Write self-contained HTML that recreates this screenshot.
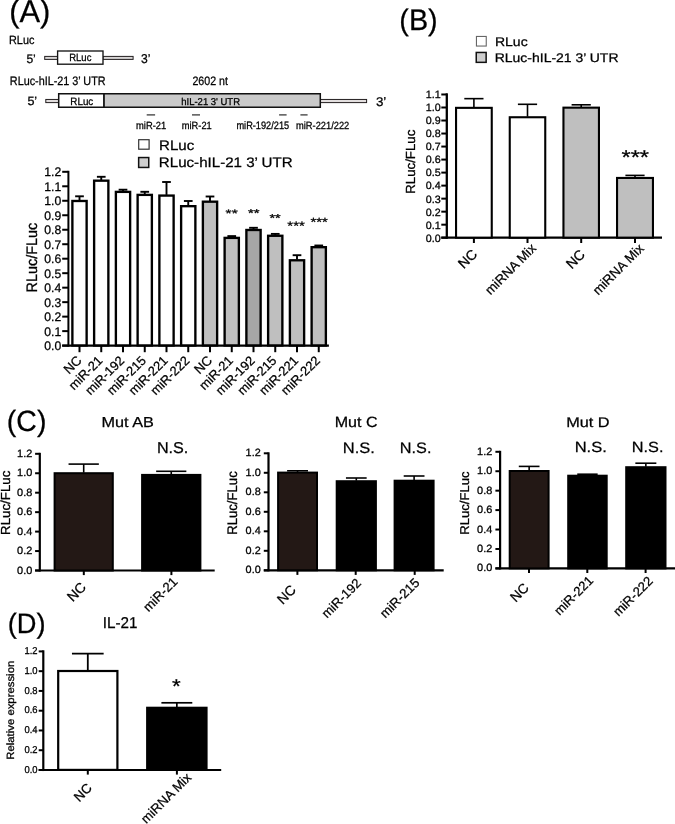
<!DOCTYPE html>
<html><head><meta charset="utf-8"><style>
html,body{margin:0;padding:0;background:#fff;}
svg{display:block;font-family:"Liberation Sans", sans-serif;text-rendering:geometricPrecision;}
text{stroke:#000;}
svg{will-change:transform;}
</style></head><body>
<svg width="675" height="824" viewBox="0 0 675 824">
<rect width="675" height="824" fill="#fff"/>
<rect x="44.70" y="56.40" width="12.90" height="3.00" fill="#d8d5d5" stroke="#231f20" stroke-width="1.0"/>
<rect x="103.00" y="56.40" width="30.10" height="3.00" fill="#d8d5d5" stroke="#231f20" stroke-width="1.0"/>
<rect x="57.60" y="51.00" width="45.40" height="13.20" fill="#fff" stroke="#151515" stroke-width="1.35"/>
<rect x="45.80" y="99.45" width="12.90" height="3.15" fill="#e0dcdc" stroke="#231f20" stroke-width="1.0"/>
<rect x="320.30" y="99.45" width="46.30" height="3.15" fill="#e3dfdf" stroke="#231f20" stroke-width="1.0"/>
<rect x="103.83" y="93.76" width="216.47" height="13.48" fill="#cacaca" stroke="#111" stroke-width="1.5"/>
<rect x="58.70" y="93.76" width="45.13" height="13.48" fill="#fff" stroke="#111" stroke-width="1.5"/>
<line x1="146.70" y1="114.90" x2="155.10" y2="114.90" stroke="#333" stroke-width="1.25"/>
<line x1="192.00" y1="114.90" x2="200.00" y2="114.90" stroke="#333" stroke-width="1.25"/>
<line x1="279.10" y1="114.90" x2="286.60" y2="114.90" stroke="#333" stroke-width="1.25"/>
<line x1="300.40" y1="114.90" x2="307.60" y2="114.90" stroke="#333" stroke-width="1.25"/>
<rect x="138.70" y="139.70" width="10.40" height="9.50" fill="#fff" stroke="#333" stroke-width="1.2"/>
<rect x="138.65" y="157.55" width="10.10" height="9.90" fill="#cecece" stroke="#111" stroke-width="1.5"/>
<line x1="68.40" y1="170.80" x2="68.40" y2="346.65" stroke="#000" stroke-width="2.0"/>
<line x1="62.20" y1="345.60" x2="68.40" y2="345.60" stroke="#000" stroke-width="2.0"/>
<line x1="62.20" y1="331.12" x2="68.40" y2="331.12" stroke="#000" stroke-width="2.0"/>
<line x1="62.20" y1="316.63" x2="68.40" y2="316.63" stroke="#000" stroke-width="2.0"/>
<line x1="62.20" y1="302.15" x2="68.40" y2="302.15" stroke="#000" stroke-width="2.0"/>
<line x1="62.20" y1="287.67" x2="68.40" y2="287.67" stroke="#000" stroke-width="2.0"/>
<line x1="62.20" y1="273.19" x2="68.40" y2="273.19" stroke="#000" stroke-width="2.0"/>
<line x1="62.20" y1="258.70" x2="68.40" y2="258.70" stroke="#000" stroke-width="2.0"/>
<line x1="62.20" y1="244.22" x2="68.40" y2="244.22" stroke="#000" stroke-width="2.0"/>
<line x1="62.20" y1="229.74" x2="68.40" y2="229.74" stroke="#000" stroke-width="2.0"/>
<line x1="62.20" y1="215.25" x2="68.40" y2="215.25" stroke="#000" stroke-width="2.0"/>
<line x1="62.20" y1="200.77" x2="68.40" y2="200.77" stroke="#000" stroke-width="2.0"/>
<line x1="62.20" y1="186.29" x2="68.40" y2="186.29" stroke="#000" stroke-width="2.0"/>
<line x1="62.20" y1="171.80" x2="68.40" y2="171.80" stroke="#000" stroke-width="2.0"/>
<line x1="62.20" y1="345.60" x2="328.90" y2="345.60" stroke="#000" stroke-width="2.1"/>
<line x1="79.50" y1="200.30" x2="79.50" y2="196.30" stroke="#000" stroke-width="1.9"/>
<line x1="75.15" y1="196.30" x2="83.85" y2="196.30" stroke="#000" stroke-width="1.9"/>
<rect x="72.38" y="200.98" width="14.25" height="144.45" fill="#fff" stroke="#000" stroke-width="2.35"/>
<line x1="79.50" y1="345.60" x2="79.50" y2="352.20" stroke="#000" stroke-width="2.0"/>
<line x1="101.25" y1="180.00" x2="101.25" y2="176.80" stroke="#000" stroke-width="1.9"/>
<line x1="96.90" y1="176.80" x2="105.60" y2="176.80" stroke="#000" stroke-width="1.9"/>
<rect x="94.12" y="180.68" width="14.25" height="164.75" fill="#fff" stroke="#000" stroke-width="2.35"/>
<line x1="101.25" y1="345.60" x2="101.25" y2="352.20" stroke="#000" stroke-width="2.0"/>
<line x1="123.00" y1="191.20" x2="123.00" y2="189.70" stroke="#000" stroke-width="1.9"/>
<line x1="118.65" y1="189.70" x2="127.35" y2="189.70" stroke="#000" stroke-width="1.9"/>
<rect x="115.88" y="191.88" width="14.25" height="153.55" fill="#fff" stroke="#000" stroke-width="2.35"/>
<line x1="123.00" y1="345.60" x2="123.00" y2="352.20" stroke="#000" stroke-width="2.0"/>
<line x1="144.75" y1="194.20" x2="144.75" y2="191.80" stroke="#000" stroke-width="1.9"/>
<line x1="140.40" y1="191.80" x2="149.10" y2="191.80" stroke="#000" stroke-width="1.9"/>
<rect x="137.62" y="194.88" width="14.25" height="150.55" fill="#fff" stroke="#000" stroke-width="2.35"/>
<line x1="144.75" y1="345.60" x2="144.75" y2="352.20" stroke="#000" stroke-width="2.0"/>
<line x1="166.50" y1="194.90" x2="166.50" y2="182.00" stroke="#000" stroke-width="1.9"/>
<line x1="162.15" y1="182.00" x2="170.85" y2="182.00" stroke="#000" stroke-width="1.9"/>
<rect x="159.38" y="195.58" width="14.25" height="149.85" fill="#fff" stroke="#000" stroke-width="2.35"/>
<line x1="166.50" y1="345.60" x2="166.50" y2="352.20" stroke="#000" stroke-width="2.0"/>
<line x1="188.25" y1="205.50" x2="188.25" y2="201.00" stroke="#000" stroke-width="1.9"/>
<line x1="183.90" y1="201.00" x2="192.60" y2="201.00" stroke="#000" stroke-width="1.9"/>
<rect x="181.12" y="206.18" width="14.25" height="139.25" fill="#fff" stroke="#000" stroke-width="2.35"/>
<line x1="188.25" y1="345.60" x2="188.25" y2="352.20" stroke="#000" stroke-width="2.0"/>
<line x1="210.00" y1="201.00" x2="210.00" y2="196.50" stroke="#000" stroke-width="1.9"/>
<line x1="205.65" y1="196.50" x2="214.35" y2="196.50" stroke="#000" stroke-width="1.9"/>
<rect x="202.88" y="201.68" width="14.25" height="143.75" fill="#bfbfbf" stroke="#000" stroke-width="2.35"/>
<line x1="210.00" y1="345.60" x2="210.00" y2="352.20" stroke="#000" stroke-width="2.0"/>
<line x1="231.75" y1="237.20" x2="231.75" y2="236.10" stroke="#000" stroke-width="1.9"/>
<line x1="227.40" y1="236.10" x2="236.10" y2="236.10" stroke="#000" stroke-width="1.9"/>
<rect x="224.62" y="237.88" width="14.25" height="107.55" fill="#bfbfbf" stroke="#000" stroke-width="2.35"/>
<line x1="231.75" y1="345.60" x2="231.75" y2="352.20" stroke="#000" stroke-width="2.0"/>
<line x1="253.50" y1="229.30" x2="253.50" y2="227.80" stroke="#000" stroke-width="1.9"/>
<line x1="249.15" y1="227.80" x2="257.85" y2="227.80" stroke="#000" stroke-width="1.9"/>
<rect x="246.38" y="229.98" width="14.25" height="115.45" fill="#a6a6a6" stroke="#000" stroke-width="2.35"/>
<line x1="253.50" y1="345.60" x2="253.50" y2="352.20" stroke="#000" stroke-width="2.0"/>
<line x1="275.25" y1="235.10" x2="275.25" y2="233.90" stroke="#000" stroke-width="1.9"/>
<line x1="270.90" y1="233.90" x2="279.60" y2="233.90" stroke="#000" stroke-width="1.9"/>
<rect x="268.12" y="235.78" width="14.25" height="109.65" fill="#bfbfbf" stroke="#000" stroke-width="2.35"/>
<line x1="275.25" y1="345.60" x2="275.25" y2="352.20" stroke="#000" stroke-width="2.0"/>
<line x1="297.00" y1="259.60" x2="297.00" y2="255.20" stroke="#000" stroke-width="1.9"/>
<line x1="292.65" y1="255.20" x2="301.35" y2="255.20" stroke="#000" stroke-width="1.9"/>
<rect x="289.88" y="260.28" width="14.25" height="85.15" fill="#bfbfbf" stroke="#000" stroke-width="2.35"/>
<line x1="297.00" y1="345.60" x2="297.00" y2="352.20" stroke="#000" stroke-width="2.0"/>
<line x1="318.75" y1="246.50" x2="318.75" y2="245.50" stroke="#000" stroke-width="1.9"/>
<line x1="314.40" y1="245.50" x2="323.10" y2="245.50" stroke="#000" stroke-width="1.9"/>
<rect x="311.62" y="247.18" width="14.25" height="98.25" fill="#bfbfbf" stroke="#000" stroke-width="2.35"/>
<line x1="318.75" y1="345.60" x2="318.75" y2="352.20" stroke="#000" stroke-width="2.0"/>
<text class="t" x="61.19" y="350.10" font-size="12.45" stroke-width="0.26" text-anchor="end" textLength="16.95" lengthAdjust="spacingAndGlyphs">0.0</text>
<text class="t" x="61.19" y="335.61" font-size="12.45" stroke-width="0.26" text-anchor="end" textLength="16.95" lengthAdjust="spacingAndGlyphs">0.1</text>
<text class="t" x="61.19" y="321.13" font-size="12.45" stroke-width="0.26" text-anchor="end" textLength="16.95" lengthAdjust="spacingAndGlyphs">0.2</text>
<text class="t" x="61.19" y="306.65" font-size="12.45" stroke-width="0.26" text-anchor="end" textLength="16.95" lengthAdjust="spacingAndGlyphs">0.3</text>
<text class="t" x="61.19" y="292.16" font-size="12.45" stroke-width="0.26" text-anchor="end" textLength="16.95" lengthAdjust="spacingAndGlyphs">0.4</text>
<text class="t" x="61.19" y="277.68" font-size="12.45" stroke-width="0.26" text-anchor="end" textLength="16.95" lengthAdjust="spacingAndGlyphs">0.5</text>
<text class="t" x="61.19" y="263.20" font-size="12.45" stroke-width="0.26" text-anchor="end" textLength="16.95" lengthAdjust="spacingAndGlyphs">0.6</text>
<text class="t" x="61.19" y="248.72" font-size="12.45" stroke-width="0.26" text-anchor="end" textLength="16.95" lengthAdjust="spacingAndGlyphs">0.7</text>
<text class="t" x="61.19" y="234.23" font-size="12.45" stroke-width="0.26" text-anchor="end" textLength="16.95" lengthAdjust="spacingAndGlyphs">0.8</text>
<text class="t" x="61.19" y="219.75" font-size="12.45" stroke-width="0.26" text-anchor="end" textLength="16.95" lengthAdjust="spacingAndGlyphs">0.9</text>
<text class="t" x="61.19" y="205.27" font-size="12.45" stroke-width="0.26" text-anchor="end" textLength="16.95" lengthAdjust="spacingAndGlyphs">1.0</text>
<text class="t" x="61.19" y="190.78" font-size="12.45" stroke-width="0.26" text-anchor="end" textLength="16.95" lengthAdjust="spacingAndGlyphs">1.1</text>
<text class="t" x="61.19" y="176.30" font-size="12.45" stroke-width="0.26" text-anchor="end" textLength="16.95" lengthAdjust="spacingAndGlyphs">1.2</text>
<rect x="476.45" y="36.45" width="9.80" height="9.60" fill="#fff" stroke="#666" stroke-width="1.1"/>
<rect x="476.25" y="52.45" width="9.90" height="9.90" fill="#cecece" stroke="#111" stroke-width="1.5"/>
<line x1="446.80" y1="93.30" x2="446.80" y2="238.80" stroke="#000" stroke-width="2.3"/>
<line x1="441.30" y1="237.70" x2="446.80" y2="237.70" stroke="#000" stroke-width="2.0"/>
<line x1="441.30" y1="224.68" x2="446.80" y2="224.68" stroke="#000" stroke-width="2.0"/>
<line x1="441.30" y1="211.66" x2="446.80" y2="211.66" stroke="#000" stroke-width="2.0"/>
<line x1="441.30" y1="198.64" x2="446.80" y2="198.64" stroke="#000" stroke-width="2.0"/>
<line x1="441.30" y1="185.62" x2="446.80" y2="185.62" stroke="#000" stroke-width="2.0"/>
<line x1="441.30" y1="172.60" x2="446.80" y2="172.60" stroke="#000" stroke-width="2.0"/>
<line x1="441.30" y1="159.58" x2="446.80" y2="159.58" stroke="#000" stroke-width="2.0"/>
<line x1="441.30" y1="146.56" x2="446.80" y2="146.56" stroke="#000" stroke-width="2.0"/>
<line x1="441.30" y1="133.54" x2="446.80" y2="133.54" stroke="#000" stroke-width="2.0"/>
<line x1="441.30" y1="120.52" x2="446.80" y2="120.52" stroke="#000" stroke-width="2.0"/>
<line x1="441.30" y1="107.50" x2="446.80" y2="107.50" stroke="#000" stroke-width="2.0"/>
<line x1="441.30" y1="94.48" x2="446.80" y2="94.48" stroke="#000" stroke-width="2.0"/>
<line x1="441.30" y1="237.70" x2="662.00" y2="237.70" stroke="#000" stroke-width="2.2"/>
<line x1="473.90" y1="107.30" x2="473.90" y2="98.65" stroke="#000" stroke-width="1.6"/>
<line x1="464.30" y1="98.65" x2="483.50" y2="98.65" stroke="#000" stroke-width="1.6"/>
<rect x="456.05" y="107.85" width="35.70" height="129.80" fill="#fff" stroke="#000" stroke-width="2.1"/>
<line x1="473.90" y1="237.70" x2="473.90" y2="243.00" stroke="#000" stroke-width="2.0"/>
<line x1="527.50" y1="116.70" x2="527.50" y2="104.30" stroke="#000" stroke-width="1.6"/>
<line x1="517.90" y1="104.30" x2="537.10" y2="104.30" stroke="#000" stroke-width="1.6"/>
<rect x="509.75" y="117.25" width="35.50" height="120.40" fill="#fff" stroke="#000" stroke-width="2.1"/>
<line x1="527.50" y1="237.70" x2="527.50" y2="243.00" stroke="#000" stroke-width="2.0"/>
<line x1="581.20" y1="107.10" x2="581.20" y2="104.80" stroke="#000" stroke-width="1.6"/>
<line x1="571.60" y1="104.80" x2="590.80" y2="104.80" stroke="#000" stroke-width="1.6"/>
<rect x="563.45" y="107.65" width="35.50" height="130.00" fill="#bfbfbf" stroke="#000" stroke-width="2.1"/>
<line x1="581.20" y1="237.70" x2="581.20" y2="243.00" stroke="#000" stroke-width="2.0"/>
<line x1="635.00" y1="177.40" x2="635.00" y2="175.40" stroke="#000" stroke-width="1.6"/>
<line x1="625.40" y1="175.40" x2="644.60" y2="175.40" stroke="#000" stroke-width="1.6"/>
<rect x="617.05" y="177.95" width="35.90" height="59.70" fill="#bfbfbf" stroke="#000" stroke-width="2.1"/>
<line x1="635.00" y1="237.70" x2="635.00" y2="243.00" stroke="#000" stroke-width="2.0"/>
<text class="t" x="440.74" y="241.56" font-size="10.61" stroke-width="0.28" text-anchor="end" textLength="14.89" lengthAdjust="spacingAndGlyphs">0.0</text>
<text class="t" x="440.74" y="228.54" font-size="10.61" stroke-width="0.28" text-anchor="end" textLength="14.89" lengthAdjust="spacingAndGlyphs">0.1</text>
<text class="t" x="440.74" y="215.52" font-size="10.61" stroke-width="0.28" text-anchor="end" textLength="14.89" lengthAdjust="spacingAndGlyphs">0.2</text>
<text class="t" x="440.74" y="202.50" font-size="10.61" stroke-width="0.28" text-anchor="end" textLength="14.89" lengthAdjust="spacingAndGlyphs">0.3</text>
<text class="t" x="440.74" y="189.48" font-size="10.61" stroke-width="0.28" text-anchor="end" textLength="14.89" lengthAdjust="spacingAndGlyphs">0.4</text>
<text class="t" x="440.74" y="176.46" font-size="10.61" stroke-width="0.28" text-anchor="end" textLength="14.89" lengthAdjust="spacingAndGlyphs">0.5</text>
<text class="t" x="440.74" y="163.44" font-size="10.61" stroke-width="0.28" text-anchor="end" textLength="14.89" lengthAdjust="spacingAndGlyphs">0.6</text>
<text class="t" x="440.74" y="150.42" font-size="10.61" stroke-width="0.28" text-anchor="end" textLength="14.89" lengthAdjust="spacingAndGlyphs">0.7</text>
<text class="t" x="440.74" y="137.40" font-size="10.61" stroke-width="0.28" text-anchor="end" textLength="14.89" lengthAdjust="spacingAndGlyphs">0.8</text>
<text class="t" x="440.74" y="124.38" font-size="10.61" stroke-width="0.28" text-anchor="end" textLength="14.89" lengthAdjust="spacingAndGlyphs">0.9</text>
<text class="t" x="440.74" y="111.36" font-size="10.61" stroke-width="0.28" text-anchor="end" textLength="14.89" lengthAdjust="spacingAndGlyphs">1.0</text>
<text class="t" x="440.74" y="98.34" font-size="10.61" stroke-width="0.28" text-anchor="end" textLength="14.89" lengthAdjust="spacingAndGlyphs">1.1</text>
<line x1="39.80" y1="452.80" x2="39.80" y2="571.55" stroke="#000" stroke-width="2.2"/>
<line x1="35.10" y1="570.50" x2="39.80" y2="570.50" stroke="#000" stroke-width="2.0"/>
<line x1="35.10" y1="551.05" x2="39.80" y2="551.05" stroke="#000" stroke-width="2.0"/>
<line x1="35.10" y1="531.60" x2="39.80" y2="531.60" stroke="#000" stroke-width="2.0"/>
<line x1="35.10" y1="512.15" x2="39.80" y2="512.15" stroke="#000" stroke-width="2.0"/>
<line x1="35.10" y1="492.70" x2="39.80" y2="492.70" stroke="#000" stroke-width="2.0"/>
<line x1="35.10" y1="473.25" x2="39.80" y2="473.25" stroke="#000" stroke-width="2.0"/>
<line x1="35.10" y1="453.80" x2="39.80" y2="453.80" stroke="#000" stroke-width="2.0"/>
<line x1="35.10" y1="570.50" x2="214.70" y2="570.50" stroke="#000" stroke-width="2.2"/>
<line x1="83.70" y1="472.70" x2="83.70" y2="464.10" stroke="#000" stroke-width="1.6"/>
<line x1="68.55" y1="464.10" x2="98.85" y2="464.10" stroke="#000" stroke-width="1.6"/>
<rect x="54.60" y="473.20" width="58.20" height="97.30" fill="#231815" stroke="#000" stroke-width="2.0"/>
<line x1="171.25" y1="474.40" x2="171.25" y2="471.30" stroke="#000" stroke-width="1.6"/>
<line x1="156.15" y1="471.30" x2="186.35" y2="471.30" stroke="#000" stroke-width="1.6"/>
<rect x="142.10" y="474.90" width="58.30" height="95.60" fill="#000" stroke="#000" stroke-width="2.0"/>
<line x1="83.80" y1="570.50" x2="83.80" y2="575.10" stroke="#000" stroke-width="2.0"/>
<line x1="171.40" y1="570.50" x2="171.40" y2="575.10" stroke="#000" stroke-width="2.0"/>
<text class="t" x="32.30" y="573.58" font-size="10.59" stroke-width="0.28" text-anchor="end" textLength="15.19" lengthAdjust="spacingAndGlyphs">0.0</text>
<text class="t" x="32.30" y="554.13" font-size="10.59" stroke-width="0.28" text-anchor="end" textLength="15.19" lengthAdjust="spacingAndGlyphs">0.2</text>
<text class="t" x="32.30" y="534.68" font-size="10.59" stroke-width="0.28" text-anchor="end" textLength="15.19" lengthAdjust="spacingAndGlyphs">0.4</text>
<text class="t" x="32.30" y="515.23" font-size="10.59" stroke-width="0.28" text-anchor="end" textLength="15.19" lengthAdjust="spacingAndGlyphs">0.6</text>
<text class="t" x="32.30" y="495.78" font-size="10.59" stroke-width="0.28" text-anchor="end" textLength="15.19" lengthAdjust="spacingAndGlyphs">0.8</text>
<text class="t" x="32.30" y="476.33" font-size="10.59" stroke-width="0.28" text-anchor="end" textLength="15.19" lengthAdjust="spacingAndGlyphs">1.0</text>
<text class="t" x="32.30" y="456.88" font-size="10.59" stroke-width="0.28" text-anchor="end" textLength="15.19" lengthAdjust="spacingAndGlyphs">1.2</text>
<line x1="268.50" y1="452.30" x2="268.50" y2="571.35" stroke="#000" stroke-width="2.2"/>
<line x1="263.80" y1="570.30" x2="268.50" y2="570.30" stroke="#000" stroke-width="2.0"/>
<line x1="263.80" y1="550.80" x2="268.50" y2="550.80" stroke="#000" stroke-width="2.0"/>
<line x1="263.80" y1="531.30" x2="268.50" y2="531.30" stroke="#000" stroke-width="2.0"/>
<line x1="263.80" y1="511.80" x2="268.50" y2="511.80" stroke="#000" stroke-width="2.0"/>
<line x1="263.80" y1="492.30" x2="268.50" y2="492.30" stroke="#000" stroke-width="2.0"/>
<line x1="263.80" y1="472.80" x2="268.50" y2="472.80" stroke="#000" stroke-width="2.0"/>
<line x1="263.80" y1="453.30" x2="268.50" y2="453.30" stroke="#000" stroke-width="2.0"/>
<line x1="263.80" y1="570.30" x2="443.70" y2="570.30" stroke="#000" stroke-width="2.2"/>
<line x1="297.55" y1="472.10" x2="297.55" y2="470.80" stroke="#000" stroke-width="1.6"/>
<line x1="287.10" y1="470.80" x2="308.00" y2="470.80" stroke="#000" stroke-width="1.6"/>
<rect x="278.10" y="472.60" width="38.90" height="97.70" fill="#231815" stroke="#000" stroke-width="2.0"/>
<line x1="356.30" y1="480.70" x2="356.30" y2="478.00" stroke="#000" stroke-width="1.6"/>
<line x1="345.95" y1="478.00" x2="366.65" y2="478.00" stroke="#000" stroke-width="1.6"/>
<rect x="336.70" y="481.20" width="39.20" height="89.10" fill="#000" stroke="#000" stroke-width="2.0"/>
<line x1="414.10" y1="480.20" x2="414.10" y2="476.00" stroke="#000" stroke-width="1.6"/>
<line x1="403.70" y1="476.00" x2="424.50" y2="476.00" stroke="#000" stroke-width="1.6"/>
<rect x="394.60" y="480.70" width="39.00" height="89.60" fill="#000" stroke="#000" stroke-width="2.0"/>
<line x1="297.40" y1="570.30" x2="297.40" y2="574.90" stroke="#000" stroke-width="2.0"/>
<line x1="355.70" y1="570.30" x2="355.70" y2="574.90" stroke="#000" stroke-width="2.0"/>
<line x1="414.70" y1="570.30" x2="414.70" y2="574.90" stroke="#000" stroke-width="2.0"/>
<text class="t" x="260.72" y="573.39" font-size="10.59" stroke-width="0.28" text-anchor="end" textLength="15.10" lengthAdjust="spacingAndGlyphs">0.0</text>
<text class="t" x="260.72" y="553.89" font-size="10.59" stroke-width="0.28" text-anchor="end" textLength="15.10" lengthAdjust="spacingAndGlyphs">0.2</text>
<text class="t" x="260.72" y="534.39" font-size="10.59" stroke-width="0.28" text-anchor="end" textLength="15.10" lengthAdjust="spacingAndGlyphs">0.4</text>
<text class="t" x="260.72" y="514.89" font-size="10.59" stroke-width="0.28" text-anchor="end" textLength="15.10" lengthAdjust="spacingAndGlyphs">0.6</text>
<text class="t" x="260.72" y="495.39" font-size="10.59" stroke-width="0.28" text-anchor="end" textLength="15.10" lengthAdjust="spacingAndGlyphs">0.8</text>
<text class="t" x="260.72" y="475.89" font-size="10.59" stroke-width="0.28" text-anchor="end" textLength="15.10" lengthAdjust="spacingAndGlyphs">1.0</text>
<text class="t" x="260.72" y="456.39" font-size="10.59" stroke-width="0.28" text-anchor="end" textLength="15.10" lengthAdjust="spacingAndGlyphs">1.2</text>
<line x1="500.10" y1="450.80" x2="500.10" y2="569.45" stroke="#000" stroke-width="2.2"/>
<line x1="495.40" y1="568.40" x2="500.10" y2="568.40" stroke="#000" stroke-width="2.0"/>
<line x1="495.40" y1="548.97" x2="500.10" y2="548.97" stroke="#000" stroke-width="2.0"/>
<line x1="495.40" y1="529.53" x2="500.10" y2="529.53" stroke="#000" stroke-width="2.0"/>
<line x1="495.40" y1="510.10" x2="500.10" y2="510.10" stroke="#000" stroke-width="2.0"/>
<line x1="495.40" y1="490.67" x2="500.10" y2="490.67" stroke="#000" stroke-width="2.0"/>
<line x1="495.40" y1="471.23" x2="500.10" y2="471.23" stroke="#000" stroke-width="2.0"/>
<line x1="495.40" y1="451.80" x2="500.10" y2="451.80" stroke="#000" stroke-width="2.0"/>
<line x1="495.40" y1="568.40" x2="675.00" y2="568.40" stroke="#000" stroke-width="2.2"/>
<line x1="529.15" y1="470.50" x2="529.15" y2="466.40" stroke="#000" stroke-width="1.6"/>
<line x1="518.80" y1="466.40" x2="539.50" y2="466.40" stroke="#000" stroke-width="1.6"/>
<rect x="509.70" y="471.00" width="38.90" height="97.40" fill="#231815" stroke="#000" stroke-width="2.0"/>
<line x1="587.45" y1="475.20" x2="587.45" y2="474.20" stroke="#000" stroke-width="1.6"/>
<line x1="577.25" y1="474.20" x2="597.65" y2="474.20" stroke="#000" stroke-width="1.6"/>
<rect x="568.20" y="475.70" width="38.50" height="92.70" fill="#000" stroke="#000" stroke-width="2.0"/>
<line x1="645.85" y1="466.70" x2="645.85" y2="463.20" stroke="#000" stroke-width="1.6"/>
<line x1="635.35" y1="463.20" x2="656.35" y2="463.20" stroke="#000" stroke-width="1.6"/>
<rect x="626.20" y="467.20" width="39.30" height="101.20" fill="#000" stroke="#000" stroke-width="2.0"/>
<line x1="529.00" y1="568.40" x2="529.00" y2="573.00" stroke="#000" stroke-width="2.0"/>
<line x1="587.30" y1="568.40" x2="587.30" y2="573.00" stroke="#000" stroke-width="2.0"/>
<line x1="645.60" y1="568.40" x2="645.60" y2="573.00" stroke="#000" stroke-width="2.0"/>
<text class="t" x="492.30" y="571.48" font-size="10.59" stroke-width="0.28" text-anchor="end" textLength="15.19" lengthAdjust="spacingAndGlyphs">0.0</text>
<text class="t" x="492.30" y="552.05" font-size="10.59" stroke-width="0.28" text-anchor="end" textLength="15.19" lengthAdjust="spacingAndGlyphs">0.2</text>
<text class="t" x="492.30" y="532.61" font-size="10.59" stroke-width="0.28" text-anchor="end" textLength="15.19" lengthAdjust="spacingAndGlyphs">0.4</text>
<text class="t" x="492.30" y="513.18" font-size="10.59" stroke-width="0.28" text-anchor="end" textLength="15.19" lengthAdjust="spacingAndGlyphs">0.6</text>
<text class="t" x="492.30" y="493.75" font-size="10.59" stroke-width="0.28" text-anchor="end" textLength="15.19" lengthAdjust="spacingAndGlyphs">0.8</text>
<text class="t" x="492.30" y="474.31" font-size="10.59" stroke-width="0.28" text-anchor="end" textLength="15.19" lengthAdjust="spacingAndGlyphs">1.0</text>
<text class="t" x="492.30" y="454.88" font-size="10.59" stroke-width="0.28" text-anchor="end" textLength="15.19" lengthAdjust="spacingAndGlyphs">1.2</text>
<line x1="43.30" y1="650.30" x2="43.30" y2="771.05" stroke="#000" stroke-width="2.2"/>
<line x1="38.70" y1="770.00" x2="43.30" y2="770.00" stroke="#000" stroke-width="2.0"/>
<line x1="38.70" y1="750.23" x2="43.30" y2="750.23" stroke="#000" stroke-width="2.0"/>
<line x1="38.70" y1="730.47" x2="43.30" y2="730.47" stroke="#000" stroke-width="2.0"/>
<line x1="38.70" y1="710.70" x2="43.30" y2="710.70" stroke="#000" stroke-width="2.0"/>
<line x1="38.70" y1="690.93" x2="43.30" y2="690.93" stroke="#000" stroke-width="2.0"/>
<line x1="38.70" y1="671.17" x2="43.30" y2="671.17" stroke="#000" stroke-width="2.0"/>
<line x1="38.70" y1="651.40" x2="43.30" y2="651.40" stroke="#000" stroke-width="2.0"/>
<line x1="38.70" y1="770.00" x2="221.20" y2="770.00" stroke="#000" stroke-width="2.2"/>
<line x1="87.80" y1="670.40" x2="87.80" y2="653.60" stroke="#000" stroke-width="1.8"/>
<line x1="71.95" y1="653.60" x2="103.65" y2="653.60" stroke="#000" stroke-width="1.8"/>
<rect x="58.20" y="671.00" width="59.20" height="98.90" fill="#fff" stroke="#000" stroke-width="2.2"/>
<line x1="176.85" y1="707.20" x2="176.85" y2="702.80" stroke="#000" stroke-width="1.7"/>
<line x1="161.40" y1="702.80" x2="192.30" y2="702.80" stroke="#000" stroke-width="1.7"/>
<rect x="147.10" y="707.70" width="59.50" height="62.30" fill="#000" stroke="#000" stroke-width="2.0"/>
<line x1="87.80" y1="770.00" x2="87.80" y2="774.60" stroke="#000" stroke-width="2.0"/>
<line x1="176.90" y1="770.00" x2="176.90" y2="774.60" stroke="#000" stroke-width="2.0"/>
<text class="t" x="37.60" y="772.70" font-size="10.00" stroke-width="0.28" text-anchor="end" textLength="13.11" lengthAdjust="spacingAndGlyphs">0.0</text>
<text class="t" x="37.60" y="752.93" font-size="10.00" stroke-width="0.28" text-anchor="end" textLength="13.11" lengthAdjust="spacingAndGlyphs">0.2</text>
<text class="t" x="37.60" y="733.17" font-size="10.00" stroke-width="0.28" text-anchor="end" textLength="13.11" lengthAdjust="spacingAndGlyphs">0.4</text>
<text class="t" x="37.60" y="713.40" font-size="10.00" stroke-width="0.28" text-anchor="end" textLength="13.11" lengthAdjust="spacingAndGlyphs">0.6</text>
<text class="t" x="37.60" y="693.63" font-size="10.00" stroke-width="0.28" text-anchor="end" textLength="13.11" lengthAdjust="spacingAndGlyphs">0.8</text>
<text class="t" x="37.60" y="673.87" font-size="10.00" stroke-width="0.28" text-anchor="end" textLength="13.11" lengthAdjust="spacingAndGlyphs">1.0</text>
<text class="t" x="37.60" y="654.10" font-size="10.00" stroke-width="0.28" text-anchor="end" textLength="13.11" lengthAdjust="spacingAndGlyphs">1.2</text>
<g class="t">
<text x="9.16" y="22.24" font-size="31.50" stroke-width="0.25" textLength="41.19" lengthAdjust="spacingAndGlyphs">(A)</text>
<text x="399.33" y="30.06" font-size="29.65" stroke-width="0.25" textLength="38.34" lengthAdjust="spacingAndGlyphs">(B)</text>
<text x="6.78" y="430.83" font-size="29.32" stroke-width="0.25" textLength="39.63" lengthAdjust="spacingAndGlyphs">(C)</text>
<text x="7.71" y="633.22" font-size="28.00" stroke-width="0.25" textLength="37.82" lengthAdjust="spacingAndGlyphs">(D)</text>
<text x="9.02" y="44.39" font-size="11.90" stroke-width="0.26" textLength="25.33" lengthAdjust="spacingAndGlyphs">RLuc</text>
<text x="26.39" y="63.16" font-size="12.29" stroke-width="0.26" textLength="9.44" lengthAdjust="spacingAndGlyphs">5&#8217;</text>
<text x="69.20" y="61.15" font-size="10.61" stroke-width="0.28" textLength="22.25" lengthAdjust="spacingAndGlyphs">RLuc</text>
<text x="141.05" y="62.75" font-size="12.85" stroke-width="0.26" textLength="9.43" lengthAdjust="spacingAndGlyphs">3&#8217;</text>
<text x="9.84" y="84.64" font-size="12.24" stroke-width="0.26" textLength="95.76" lengthAdjust="spacingAndGlyphs">RLuc-hIL-21 3&#8217; UTR</text>
<text x="192.38" y="84.85" font-size="12.16" stroke-width="0.26" textLength="35.58" lengthAdjust="spacingAndGlyphs">2602 nt</text>
<text x="27.40" y="105.11" font-size="12.04" stroke-width="0.26" textLength="9.77" lengthAdjust="spacingAndGlyphs">5&#8217;</text>
<text x="70.37" y="104.83" font-size="10.65" stroke-width="0.28" textLength="22.89" lengthAdjust="spacingAndGlyphs">RLuc</text>
<text x="181.26" y="104.73" font-size="9.93" stroke-width="0.28" textLength="58.77" lengthAdjust="spacingAndGlyphs">hIL-21 3&#39; UTR</text>
<text x="375.93" y="105.88" font-size="12.72" stroke-width="0.26" textLength="10.41" lengthAdjust="spacingAndGlyphs">3&#8217;</text>
<text x="136.03" y="129.03" font-size="10.41" stroke-width="0.28" textLength="30.25" lengthAdjust="spacingAndGlyphs">miR-21</text>
<text x="181.80" y="129.20" font-size="10.45" stroke-width="0.28" textLength="29.94" lengthAdjust="spacingAndGlyphs">miR-21</text>
<text x="236.42" y="129.41" font-size="10.81" stroke-width="0.28" textLength="52.76" lengthAdjust="spacingAndGlyphs">miR-192/215</text>
<text x="296.03" y="129.03" font-size="10.44" stroke-width="0.28" textLength="53.27" lengthAdjust="spacingAndGlyphs">miR-221/222</text>
<text x="159.00" y="150.11" font-size="13.68" stroke-width="0.26" textLength="35.19" lengthAdjust="spacingAndGlyphs">RLuc</text>
<text x="158.82" y="166.78" font-size="13.72" stroke-width="0.26" textLength="133.86" lengthAdjust="spacingAndGlyphs">RLuc-hIL-21 3&#8217; UTR</text>
<text x="494.94" y="45.91" font-size="12.50" stroke-width="0.26" textLength="32.71" lengthAdjust="spacingAndGlyphs">RLuc</text>
<text x="494.70" y="61.89" font-size="12.50" stroke-width="0.26" textLength="123.82" lengthAdjust="spacingAndGlyphs">RLuc-hIL-21 3&#8217; UTR</text>
<text x="101.57" y="427.05" font-size="14.40" stroke-width="0.25" textLength="52.33" lengthAdjust="spacingAndGlyphs">Mut AB</text>
<text x="334.73" y="427.29" font-size="14.82" stroke-width="0.25" textLength="42.85" lengthAdjust="spacingAndGlyphs">Mut C</text>
<text x="566.17" y="426.99" font-size="14.00" stroke-width="0.25" textLength="43.45" lengthAdjust="spacingAndGlyphs">Mut D</text>
<text x="156.91" y="452.89" font-size="15.65" stroke-width="0.25" textLength="31.46" lengthAdjust="spacingAndGlyphs">N.S.</text>
<text x="342.84" y="452.89" font-size="15.19" stroke-width="0.25" textLength="32.06" lengthAdjust="spacingAndGlyphs">N.S.</text>
<text x="399.87" y="452.75" font-size="15.20" stroke-width="0.25" textLength="31.58" lengthAdjust="spacingAndGlyphs">N.S.</text>
<text x="574.67" y="452.29" font-size="14.74" stroke-width="0.25" textLength="32.12" lengthAdjust="spacingAndGlyphs">N.S.</text>
<text x="631.81" y="452.06" font-size="14.74" stroke-width="0.25" textLength="31.66" lengthAdjust="spacingAndGlyphs">N.S.</text>
<text x="102.73" y="628.20" font-size="15.71" stroke-width="0.25" textLength="34.75" lengthAdjust="spacingAndGlyphs">IL-21</text>
<text x="172.14" y="693.00" font-size="20.09" stroke-width="0.25" textLength="8.72" lengthAdjust="spacingAndGlyphs">*</text>
<text x="621.44" y="163.96" font-size="20.00" stroke-width="0.25" textLength="27.63" lengthAdjust="spacingAndGlyphs">***</text>
<text x="225.64" y="216.99" font-size="10.77" stroke-width="0.28" textLength="12.08" lengthAdjust="spacingAndGlyphs">**</text>
<text x="247.95" y="216.70" font-size="11.36" stroke-width="0.28" textLength="11.48" lengthAdjust="spacingAndGlyphs">**</text>
<text x="269.41" y="221.77" font-size="11.61" stroke-width="0.26" textLength="11.30" lengthAdjust="spacingAndGlyphs">**</text>
<text x="287.37" y="229.90" font-size="12.25" stroke-width="0.26" textLength="17.58" lengthAdjust="spacingAndGlyphs">***</text>
<text x="310.44" y="226.39" font-size="11.85" stroke-width="0.26" textLength="17.42" lengthAdjust="spacingAndGlyphs">***</text>
<text x="0" y="0" font-size="15.19" stroke-width="0.28" text-anchor="middle" textLength="69.73" lengthAdjust="spacingAndGlyphs" transform="translate(36.91,257.65) rotate(-90)">RLuc/FLuc</text>
<text x="0" y="0" font-size="13.18" stroke-width="0.28" text-anchor="middle" textLength="64.16" lengthAdjust="spacingAndGlyphs" transform="translate(414.55,161.73) rotate(-90)">RLuc/FLuc</text>
<text x="0" y="0" font-size="13.11" stroke-width="0.28" text-anchor="middle" textLength="64.35" lengthAdjust="spacingAndGlyphs" transform="translate(10.03,502.78) rotate(-90)">RLuc/FLuc</text>
<text x="0" y="0" font-size="13.84" stroke-width="0.28" text-anchor="middle" textLength="63.61" lengthAdjust="spacingAndGlyphs" transform="translate(237.48,503.06) rotate(-90)">RLuc/FLuc</text>
<text x="0" y="0" font-size="12.80" stroke-width="0.28" text-anchor="middle" textLength="63.36" lengthAdjust="spacingAndGlyphs" transform="translate(468.63,503.10) rotate(-90)">RLuc/FLuc</text>
<text x="0" y="0" font-size="10.52" stroke-width="0.28" text-anchor="middle" textLength="99.01" lengthAdjust="spacingAndGlyphs" transform="translate(14.30,710.26) rotate(-90)">Relative expression</text>
<text x="0" y="0" font-size="13.94" stroke-width="0.26" text-anchor="end" transform="translate(478.06,255.04) rotate(-45)">NC</text>
<text x="0" y="0" font-size="13.25" stroke-width="0.26" text-anchor="end" transform="translate(536.86,249.14) rotate(-45)">miRNA Mix</text>
<text x="0" y="0" font-size="14.03" stroke-width="0.25" text-anchor="end" transform="translate(86.98,588.21) rotate(-45)">NC</text>
<text x="0" y="0" font-size="13.14" stroke-width="0.26" text-anchor="end" transform="translate(178.39,582.48) rotate(-45)">miR-21</text>
<text x="0" y="0" font-size="13.82" stroke-width="0.26" text-anchor="end" transform="translate(296.76,590.81) rotate(-45)">NC</text>
<text x="0" y="0" font-size="13.06" stroke-width="0.26" text-anchor="end" transform="translate(361.97,583.95) rotate(-45)">miR-192</text>
<text x="0" y="0" font-size="13.13" stroke-width="0.26" text-anchor="end" transform="translate(420.36,583.62) rotate(-45)">miR-215</text>
<text x="0" y="0" font-size="13.69" stroke-width="0.26" text-anchor="end" transform="translate(529.81,588.86) rotate(-45)">NC</text>
<text x="0" y="0" font-size="12.92" stroke-width="0.26" text-anchor="end" transform="translate(593.96,581.40) rotate(-45)">miR-221</text>
<text x="0" y="0" font-size="13.15" stroke-width="0.26" text-anchor="end" transform="translate(653.67,581.84) rotate(-45)">miR-222</text>
<text x="0" y="0" font-size="13.27" stroke-width="0.26" text-anchor="end" transform="translate(92.85,788.83) rotate(-45)">NC</text>
<text x="0" y="0" font-size="13.09" stroke-width="0.26" text-anchor="end" transform="translate(192.06,778.42) rotate(-45)">miRNA Mix</text>
<text x="0" y="0" font-size="13.97" stroke-width="0.26" text-anchor="end" transform="translate(586.00,255.25) rotate(-45)">NC</text>
<text x="0" y="0" font-size="13.31" stroke-width="0.26" text-anchor="end" transform="translate(644.62,249.17) rotate(-45)">miRNA Mix</text>
<text x="0" y="0" font-size="13.2" stroke-width="0.26" text-anchor="end" transform="translate(82.50,361.3) rotate(-45)">NC</text>
<text x="0" y="0" font-size="12.92" stroke-width="0.26" text-anchor="end" transform="translate(103.35,361.3) rotate(-45)">miR-21</text>
<text x="0" y="0" font-size="12.92" stroke-width="0.26" text-anchor="end" transform="translate(125.10,361.3) rotate(-45)">miR-192</text>
<text x="0" y="0" font-size="12.92" stroke-width="0.26" text-anchor="end" transform="translate(146.85,361.3) rotate(-45)">miR-215</text>
<text x="0" y="0" font-size="12.92" stroke-width="0.26" text-anchor="end" transform="translate(168.60,361.3) rotate(-45)">miR-221</text>
<text x="0" y="0" font-size="12.92" stroke-width="0.26" text-anchor="end" transform="translate(190.35,361.3) rotate(-45)">miR-222</text>
<text x="0" y="0" font-size="13.2" stroke-width="0.26" text-anchor="end" transform="translate(213.00,361.3) rotate(-45)">NC</text>
<text x="0" y="0" font-size="12.92" stroke-width="0.26" text-anchor="end" transform="translate(233.85,361.3) rotate(-45)">miR-21</text>
<text x="0" y="0" font-size="12.92" stroke-width="0.26" text-anchor="end" transform="translate(255.60,361.3) rotate(-45)">miR-192</text>
<text x="0" y="0" font-size="12.92" stroke-width="0.26" text-anchor="end" transform="translate(277.35,361.3) rotate(-45)">miR-215</text>
<text x="0" y="0" font-size="12.92" stroke-width="0.26" text-anchor="end" transform="translate(299.10,361.3) rotate(-45)">miR-221</text>
<text x="0" y="0" font-size="12.92" stroke-width="0.26" text-anchor="end" transform="translate(320.85,361.3) rotate(-45)">miR-222</text>
</g>
</svg>
</body></html>
